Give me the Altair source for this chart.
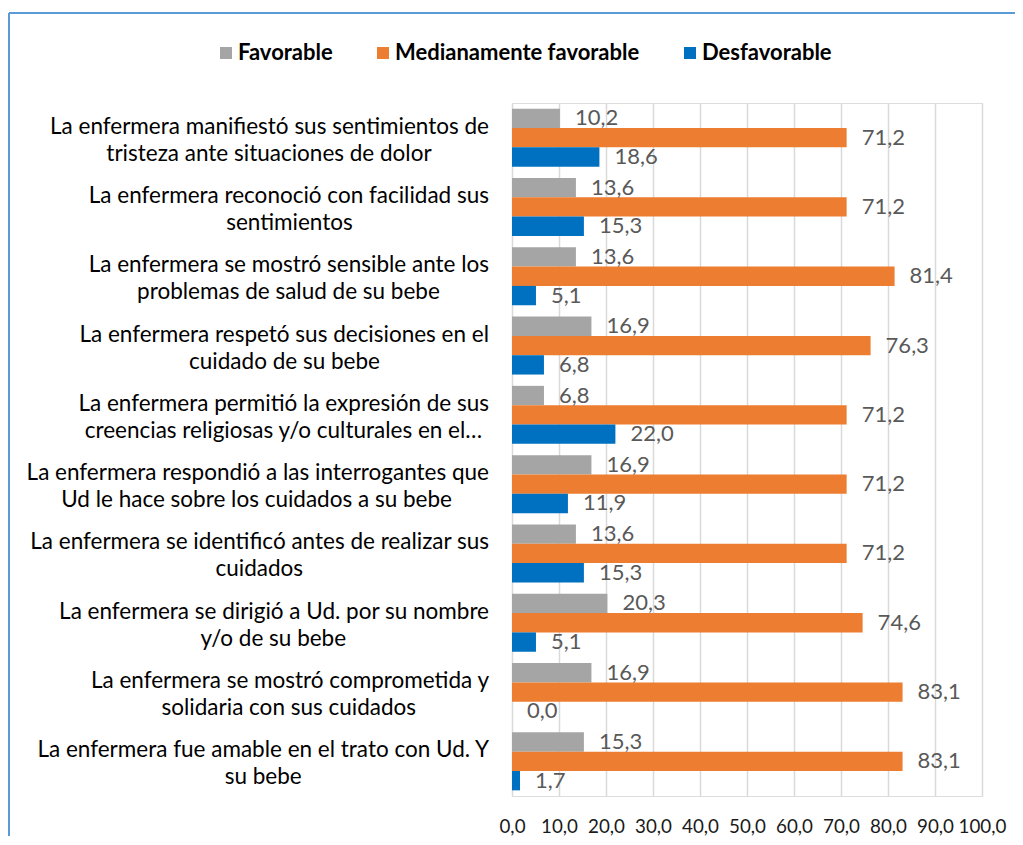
import altair as alt
import pandas as pd

# ---- data ----
line1 = [
    "La enfermera manifiestó sus sentimientos de",
    "La enfermera reconoció con facilidad sus",
    "La enfermera se mostró sensible ante los",
    "La enfermera respetó sus decisiones en el",
    "La enfermera permitió la expresión de sus",
    "La enfermera respondió a las interrogantes que",
    "La enfermera se identificó antes de realizar sus",
    "La enfermera se dirigió a Ud. por su nombre",
    "La enfermera se mostró comprometida y",
    "La enfermera fue amable en el trato con Ud. Y",
]
line2 = [
    "tristeza ante situaciones de dolor",
    "sentimientos",
    "problemas de salud de su bebe",
    "cuidado de su bebe",
    "creencias religiosas y/o culturales en el…",
    "Ud le hace sobre los cuidados a su bebe",
    "cuidados",
    "y/o de su bebe",
    "solidaria con sus cuidados",
    "su bebe",
]
series = ["Favorable", "Medianamente favorable", "Desfavorable"]
favorable = [10.2, 13.6, 13.6, 16.9, 6.8, 16.9, 13.6, 20.3, 16.9, 15.3]
medianamente = [71.2, 71.2, 81.4, 76.3, 71.2, 71.2, 71.2, 74.6, 83.1, 83.1]
desfavorable = [18.6, 15.3, 5.1, 6.8, 22.0, 11.9, 15.3, 5.1, 0.0, 1.7]
colors = ["#a5a5a5", "#ed7d31", "#0070c0"]

# ---- layout ----
W, H = 470, 693
PAD_L, PAD_T = 504, 95
TOTAL_W, TOTAL_H = 1007, 829
PX_PER_UNIT = W / 100.0
LABEL_RIGHT = -23      # right edge of category labels (px from plot left)
LABEL_FONT = 22.5

# approximate glyph widths (em) used to centre the second label line
_cw = {" ": .226, "a": .479, "b": .525, "c": .423, "d": .525, "e": .498, "f": .305,
       "g": .471, "h": .525, "i": .229, "j": .239, "k": .455, "l": .229, "m": .799,
       "n": .525, "o": .527, "p": .525, "q": .525, "r": .349, "s": .391, "t": .335,
       "u": .525, "v": .452, "w": .715, "x": .433, "y": .453, "z": .395, "L": .420,
       "U": .653, "Y": .487, ".": .252, "/": .386, "ó": .527, "é": .498, "í": .229,
       "…": .750}


def text_w(s, size=24.1):
    return sum(_cw.get(ch, .5) for ch in s) * size


cats = [f"{i}" for i in range(len(line1))]

rows = []
for i, c in enumerate(cats):
    for s, vals in zip(series, [favorable, medianamente, desfavorable]):
        rows.append({"cat": c, "series": s, "value": vals[i]})
df = pd.DataFrame(rows)

lab = pd.DataFrame({
    "cat": cats,
    "l1": line1,
    "l2": line2,
})
lab["x1"] = LABEL_RIGHT / PX_PER_UNIT
lab["x2"] = [(LABEL_RIGHT - text_w(a) / 2) / PX_PER_UNIT for a in line1]

yenc = alt.Y("cat:N", sort=cats, axis=None,
             scale=alt.Scale(paddingInner=0.163, paddingOuter=0.0815))
yoff = alt.YOffset("series:N", sort=series,
                   scale=alt.Scale(paddingInner=0, paddingOuter=0))

xenc = alt.X("value:Q", scale=alt.Scale(domain=[0, 100], nice=False),
             axis=alt.Axis(values=list(range(0, 101, 10)),
                           labelExpr="replace(format(datum.value, '.1f'), '.', ',')",
                           grid=True, gridColor="#d9d9d9", gridWidth=1.5,
                           domain=False, ticks=False, labelFontSize=18.8,
                           labelColor="#1a1a1a", labelPadding=30,
                           labelOverlap=False, labelBound=False, labelFlush=False,
                           labelAlign="center",
                           labelBaseline="middle", labelFont="Lato", title=None))

bars = alt.Chart(df).mark_bar().encode(
    y=yenc, yOffset=yoff, x=xenc,
    color=alt.Color("series:N", sort=series,
                    scale=alt.Scale(domain=series, range=colors),
                    legend=alt.Legend(orient="none", legendX=-297, legendY=-61,
                                      direction="horizontal", title=None,
                                      symbolType="square", symbolSize=144,
                                      symbolStrokeWidth=0, labelFontSize=22,
                                      labelFontWeight="bold", labelFont="Lato",
                                      labelColor="#000000", labelOffset=1,
                                      labelLimit=0,
                                      columnPadding=39, padding=0)),
)

values = alt.Chart(df).transform_calculate(
    lbl="replace(format(datum.value, '.1f'), '.', ',')"
).mark_text(align="left", baseline="middle", dx=15, fontSize=22,
            font="Lato", color="#595959").encode(
    y=yenc, yOffset=yoff, x=alt.X("value:Q"), text="lbl:N"
)

cat1 = alt.Chart(lab).mark_text(align="right", baseline="middle", dy=-11,
                                fontSize=LABEL_FONT, font="Lato",
                                color="#000000").encode(
    y=alt.Y("cat:N", sort=cats), x=alt.X("x1:Q"), text="l1:N")
cat2 = alt.Chart(lab).mark_text(align="center", baseline="middle", dy=16,
                                fontSize=LABEL_FONT, font="Lato",
                                color="#000000").encode(
    y=alt.Y("cat:N", sort=cats), x=alt.X("x2:Q"), text="l2:N")

one = pd.DataFrame({"k": [0]})
border_left = alt.Chart(one).mark_rule(color="#5b9bd5", strokeWidth=2).encode(
    x=alt.value(-PAD_L + 1), y=alt.value(-PAD_T + 5), y2=alt.value(H + 40))
border_top = alt.Chart(one).mark_rule(color="#5b9bd5", strokeWidth=2).encode(
    x=alt.value(-PAD_L + 1), x2=alt.value(TOTAL_W - PAD_L), y=alt.value(-PAD_T + 5))

chart = alt.layer(bars, values, cat1, cat2, border_left, border_top).properties(
    width=W, height=H,
    autosize=alt.AutoSizeParams(type="none"),
    padding={"left": PAD_L, "top": PAD_T,
             "right": TOTAL_W - PAD_L - W, "bottom": TOTAL_H - PAD_T - H},
).configure_view(stroke=None).configure(font="Lato", background="white")

chart.save("out.html", embed_options={"renderer": "svg", "actions": False})
